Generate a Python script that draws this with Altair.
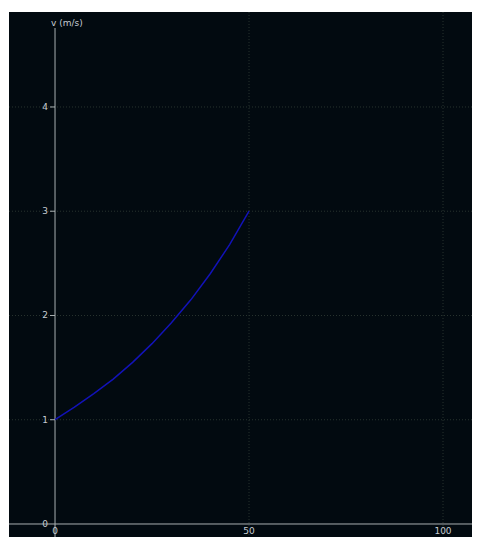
import altair as alt
import pandas as pd

# curve values
t_vals = [0, 5, 10, 15, 20, 25, 30, 35, 40, 45, 50]
v_vals = [1.00, 1.12, 1.25, 1.39, 1.55, 1.73, 1.93, 2.15, 2.40, 2.68, 3.00]

y_grid = [1, 2, 3, 4]
x_grid = [50, 100]
y_labels = [0, 1, 2, 3, 4]
x_labels = [0, 50, 100]
y_title = "v (m/s)"

W, H = 463, 525
xs = alt.Scale(domain=[-11.86, 107.47], nice=False, zero=False)
ys = alt.Scale(domain=[-0.1247, 4.911], nice=False, zero=False)

grid_col = "#28332f"
axis_col = "#a9b0b2"
label_col = "#c6ccd2"
font = "DejaVu Sans"

curve = pd.DataFrame({"t": t_vals, "v": v_vals})

hgrid = alt.Chart(pd.DataFrame({"y": y_grid})).mark_rule(
    color=grid_col, strokeDash=[1, 2], strokeWidth=1
).encode(y=alt.Y("y:Q", scale=ys, axis=None))

vgrid = alt.Chart(pd.DataFrame({"x": x_grid})).mark_rule(
    color=grid_col, strokeDash=[1, 2], strokeWidth=1
).encode(x=alt.X("x:Q", scale=xs, axis=None))

xaxis = alt.Chart(pd.DataFrame({"y": [0]})).mark_rule(
    color=axis_col, strokeWidth=1
).encode(y=alt.Y("y:Q", scale=ys, axis=None))

yaxis = alt.Chart(pd.DataFrame({"x": [0]})).mark_rule(
    color=axis_col, strokeWidth=1
).encode(x=alt.X("x:Q", scale=xs, axis=None), y=alt.value(16), y2=alt.value(H))

yticks = alt.Chart(pd.DataFrame({"y": y_grid, "x0": [-1.3] * 4, "x1": [0] * 4})).mark_rule(
    color=axis_col, strokeWidth=1
).encode(
    x=alt.X("x0:Q", scale=xs, axis=None),
    x2="x1:Q",
    y=alt.Y("y:Q", scale=ys, axis=None),
)

ylab = alt.Chart(pd.DataFrame({"y": y_labels, "x": [0] * len(y_labels), "lab": [str(v) for v in y_labels]})).mark_text(
    align="right", baseline="middle", dx=-7, fontSize=9, font=font, color=label_col
).encode(
    x=alt.X("x:Q", scale=xs, axis=None),
    y=alt.Y("y:Q", scale=ys, axis=None),
    text="lab:N",
)

xlab = alt.Chart(pd.DataFrame({"x": x_labels, "y": [0] * len(x_labels), "lab": [str(v) for v in x_labels]})).mark_text(
    align="center", baseline="middle", dy=7, fontSize=9, font=font, color=label_col
).encode(
    x=alt.X("x:Q", scale=xs, axis=None),
    y=alt.Y("y:Q", scale=ys, axis=None),
    text="lab:N",
)

title = alt.Chart(pd.DataFrame({"x": [0], "lab": [y_title]})).mark_text(
    align="left", baseline="middle", dx=-4, fontSize=9, font=font, color=label_col
).encode(
    x=alt.X("x:Q", scale=xs, axis=None),
    y=alt.value(11),
    text="lab:N",
)

line = alt.Chart(curve).mark_line(color="#1212b8", strokeWidth=1.5).encode(
    x=alt.X("t:Q", scale=xs, axis=None),
    y=alt.Y("v:Q", scale=ys, axis=None),
)

chart = alt.layer(hgrid, vgrid, xaxis, yaxis, yticks, line, ylab, xlab, title).properties(
    width=W, height=H,
    padding={"left": 1, "top": 4, "right": 0, "bottom": 0},
    background="white",
    autosize=alt.AutoSizeParams(type="none"),
).configure_view(fill="#020a10", stroke=None)

chart.save("out.html", embed_options={"renderer": "svg", "actions": False})
